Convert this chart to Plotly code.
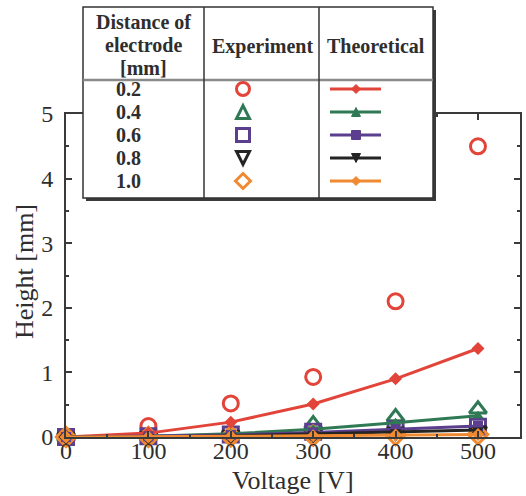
import plotly.graph_objects as go

# ---------------- data ----------------
voltage = [0, 100, 200, 300, 400, 500]
distances = ["0.2", "0.4", "0.6", "0.8", "1.0"]

exp_02 = [0, 0.17, 0.52, 0.93, 2.10, 4.50]
exp_04 = [0, 0.02, 0.06, 0.20, 0.31, 0.43]
exp_06 = [0, 0.01, 0.04, 0.08, 0.12, 0.16]
exp_08 = [0, 0.01, 0.03, 0.05, 0.08, 0.10]
exp_10 = [0, 0.00, 0.01, 0.02, 0.03, 0.04]

th_02 = [0, 0.06, 0.23, 0.51, 0.90, 1.37]
th_04 = [0, 0.01, 0.05, 0.12, 0.22, 0.33]
th_06 = [0, 0.01, 0.03, 0.07, 0.12, 0.17]
th_08 = [0, 0.00, 0.02, 0.05, 0.08, 0.11]
th_10 = [0, 0.00, 0.01, 0.02, 0.03, 0.04]

x_ticks = [0, 100, 200, 300, 400, 500]
y_ticks = [0, 1, 2, 3, 4, 5]

exp_series = [exp_02, exp_04, exp_06, exp_08, exp_10]
th_series = [th_02, th_04, th_06, th_08, th_10]

colors = ["#e2443a", "#2f7a55", "#5b3f8e", "#242424", "#f08a32"]
exp_symbols = ["circle-open", "triangle-up-open", "square-open", "triangle-down-open", "diamond-open"]
th_symbols = ["diamond", "triangle-up", "square", "triangle-down", "diamond"]

FONT = "Liberation Serif"
TXT = "#2e2e2e"

fig = go.Figure()

for i, ys in enumerate(exp_series):
    fig.add_trace(go.Scatter(
        x=voltage, y=ys, mode="markers", name=distances[i] + " exp",
        marker=dict(symbol=exp_symbols[i], size=15, color=colors[i],
                    line=dict(width=3, color=colors[i])),
        cliponaxis=False, showlegend=False))

for i, ys in enumerate(th_series):
    fig.add_trace(go.Scatter(
        x=voltage, y=ys, mode="lines+markers", name=distances[i] + " theory",
        line=dict(color=colors[i], width=3),
        marker=dict(symbol=th_symbols[i], size=10, color=colors[i]),
        cliponaxis=False, showlegend=False))

# ---------------- layout ----------------
L, R, T, B = 66, 6, 114, 59
W, H = 526, 496
PW, PH = W - L - R, H - T - B


def X(px):
    return (px - L) / PW


def Y(py):
    return (H - B - py) / PH


shapes = []
annots = []

# table: shadow, body, separators
tx0, ty0, tx1, ty1 = 83, 7, 433, 198
shapes.append(dict(type="rect", xref="paper", yref="paper", layer="above",
                   x0=X(tx0 + 3), x1=X(tx1 + 3), y0=Y(ty1 + 3), y1=Y(ty0 + 3),
                   fillcolor="#3a3a3a", line=dict(width=0)))
shapes.append(dict(type="rect", xref="paper", yref="paper", layer="above",
                   x0=X(tx0), x1=X(tx1), y0=Y(ty1), y1=Y(ty0),
                   fillcolor="white", line=dict(width=1.5, color="#333")))
shapes.append(dict(type="line", xref="paper", yref="paper", layer="above",
                   x0=X(tx0), x1=X(tx1), y0=Y(80), y1=Y(80),
                   line=dict(width=2.5, color="#8a8a8a")))
for cx in (204, 319):
    shapes.append(dict(type="line", xref="paper", yref="paper", layer="above",
                       x0=X(cx), x1=X(cx), y0=Y(ty1), y1=Y(ty0),
                       line=dict(width=1.5, color="#333")))

hfont = dict(family=FONT, size=20, color=TXT)
for txt, yy in (("Distance of", 22), ("electrode", 45), ("[mm]", 68)):
    annots.append(dict(text="<b>" + txt + "</b>", x=X(143), y=Y(yy),
                       xref="paper", yref="paper", showarrow=False, font=hfont,
                       xanchor="center", yanchor="middle"))
annots.append(dict(text="<b>Experiment</b>", x=X(262), y=Y(46), xref="paper", yref="paper",
                   showarrow=False, font=hfont, xanchor="center", yanchor="middle"))
annots.append(dict(text="<b>Theoretical</b>", x=X(376), y=Y(46), xref="paper", yref="paper",
                   showarrow=False, font=hfont, xanchor="center", yanchor="middle"))

row_y = [89, 112, 135, 158, 181]
for i, d in enumerate(distances):
    ry = row_y[i]
    annots.append(dict(text="<b>" + d + "</b>", x=X(128), y=Y(ry), xref="paper", yref="paper",
                       showarrow=False, font=dict(family=FONT, size=20, color=TXT),
                       xanchor="center", yanchor="middle"))
    c = colors[i]
    mx = 243
    s = 6.5
    # experiment symbol (open)
    if i == 0:
        shapes.append(dict(type="circle", xref="paper", yref="paper", layer="above",
                           x0=X(mx - s), x1=X(mx + s), y0=Y(ry + s), y1=Y(ry - s),
                           line=dict(width=3, color=c)))
    elif i == 1:
        path = f"M {X(mx - s)},{Y(ry + s)} L {X(mx + s)},{Y(ry + s)} L {X(mx)},{Y(ry - s)} Z"
        shapes.append(dict(type="path", path=path, xref="paper", yref="paper", layer="above",
                           line=dict(width=3, color=c)))
    elif i == 2:
        shapes.append(dict(type="rect", xref="paper", yref="paper", layer="above",
                           x0=X(mx - s), x1=X(mx + s), y0=Y(ry + s), y1=Y(ry - s),
                           line=dict(width=3, color=c)))
    elif i == 3:
        path = f"M {X(mx - s)},{Y(ry - s)} L {X(mx + s)},{Y(ry - s)} L {X(mx)},{Y(ry + s)} Z"
        shapes.append(dict(type="path", path=path, xref="paper", yref="paper", layer="above",
                           line=dict(width=3, color=c)))
    else:
        path = (f"M {X(mx)},{Y(ry - s - 1)} L {X(mx + s + 1)},{Y(ry)} "
                f"L {X(mx)},{Y(ry + s + 1)} L {X(mx - s - 1)},{Y(ry)} Z")
        shapes.append(dict(type="path", path=path, xref="paper", yref="paper", layer="above",
                           line=dict(width=3, color=c)))
    # theoretical: line + small filled marker
    shapes.append(dict(type="line", xref="paper", yref="paper", layer="above",
                       x0=X(330), x1=X(381), y0=Y(ry), y1=Y(ry),
                       line=dict(width=3, color=c)))
    tm = 4.5
    tx = 356
    if i in (0, 4):
        path = (f"M {X(tx)},{Y(ry - tm)} L {X(tx + tm)},{Y(ry)} "
                f"L {X(tx)},{Y(ry + tm)} L {X(tx - tm)},{Y(ry)} Z")
    elif i == 1:
        path = f"M {X(tx - tm)},{Y(ry + tm)} L {X(tx + tm)},{Y(ry + tm)} L {X(tx)},{Y(ry - tm)} Z"
    elif i == 2:
        path = (f"M {X(tx - tm)},{Y(ry - tm)} L {X(tx + tm)},{Y(ry - tm)} "
                f"L {X(tx + tm)},{Y(ry + tm)} L {X(tx - tm)},{Y(ry + tm)} Z")
    else:
        path = f"M {X(tx - tm)},{Y(ry - tm)} L {X(tx + tm)},{Y(ry - tm)} L {X(tx)},{Y(ry + tm)} Z"
    shapes.append(dict(type="path", path=path, xref="paper", yref="paper", layer="above",
                       fillcolor=c, line=dict(width=1, color=c)))

# axis titles as annotations for exact placement
tfont = dict(family=FONT, size=26, color=TXT)
annots.append(dict(text="Voltage [V]", x=X(293), y=Y(480), xref="paper", yref="paper",
                   showarrow=False, font=tfont, xanchor="center", yanchor="middle"))
annots.append(dict(text="Height [mm]", x=X(24), y=Y(272), xref="paper", yref="paper",
                   showarrow=False, font=tfont, xanchor="center", yanchor="middle",
                   textangle=-90))

axis_common = dict(
    showline=True, linewidth=2, linecolor="#3a3a3a", mirror="ticks",
    ticks="inside", ticklen=6, tickwidth=1.5, tickcolor="#3a3a3a",
    showgrid=False, zeroline=False, automargin=False,
    tickfont=dict(family=FONT, size=24, color=TXT),
)

fig.update_layout(
    width=W, height=H,
    margin=dict(l=L, r=R, t=T, b=B),
    paper_bgcolor="white", plot_bgcolor="white",
    showlegend=False,
    xaxis=dict(range=[0, 551], tickvals=x_ticks, ticklabelstandoff=-9,
               minor=dict(ticks="inside", ticklen=3, dtick=50, tickcolor="#3a3a3a"),
               **axis_common),
    yaxis=dict(range=[0, 5], tickvals=y_ticks, ticklabelstandoff=6,
               minor=dict(ticks="inside", ticklen=3, dtick=0.5, tickcolor="#3a3a3a"),
               **axis_common),
    shapes=shapes,
    annotations=annots,
)

fig.write_html("out.html", config={"displayModeBar": False},
               post_script="document.body.style.margin='0';")
